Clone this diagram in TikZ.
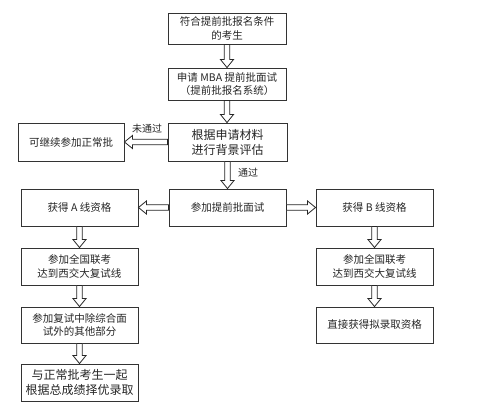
\documentclass[tikz,border=0pt]{standalone}
\usepackage{fontspec}
\setmainfont{Noto Sans CJK SC}
\usetikzlibrary{calc}
\tikzset{
  box/.style={draw=black!80, line width=0.9pt, rectangle, inner sep=0pt, align=center,
    font=\fontsize{10.5}{13.5}\selectfont, text=black!85},
  bigtxt/.style={font=\fontsize{12}{15}\selectfont},
  lbl/.style={font=\fontsize{10}{12}\selectfont, inner sep=0pt, text=black!85},
  barrowstyle/.style={draw=black!85, line width=0.8pt, fill=white, line join=miter}
}
\newcommand\blockarrow[2]{%
  \coordinate (ba-s) at (#1);
  \coordinate (ba-t) at (#2);
  \coordinate (ba-m) at ($(ba-t)!8pt!(ba-s)$);
  \draw[barrowstyle] ($(ba-s)!2.8pt!90:(ba-t)$) -- ($(ba-m)!2.8pt!-90:(ba-s)$)
    -- ($(ba-m)!6.5pt!-90:(ba-s)$) -- (ba-t) -- ($(ba-m)!6.5pt!90:(ba-s)$)
    -- ($(ba-m)!2.8pt!90:(ba-s)$) -- ($(ba-s)!2.8pt!-90:(ba-t)$) -- cycle;
}
\begin{document}
\begin{tikzpicture}[x=1pt,y=-1pt]
\useasboundingbox[fill=white] (0,0) rectangle (493,412);
\node[box, minimum width=118pt, minimum height=31pt] (n1) at (227,28.5) {符合提前批报名条件\\的考生};
\node[box, minimum width=118pt, minimum height=32pt] (n2) at (227,84) {申请 MBA 提前批面试\\（提前批报名系统）};
\node[box, bigtxt, minimum width=119pt, minimum height=38pt] (n3) at (227.5,142) {根据申请材料\\进行背景评估};
\node[box, minimum width=106pt, minimum height=38pt] (l) at (71,142) {可继续参加正常批};
\node[box, minimum width=117pt, minimum height=37pt] (c) at (227.5,207.5) {参加提前批面试};
\node[box, minimum width=117pt, minimum height=37pt] (a1) at (79.5,207.5) {获得 A 线资格};
\node[box, minimum width=117pt, minimum height=37pt] (b1) at (374.5,207.5) {获得 B 线资格};
\node[box, minimum width=117pt, minimum height=37pt] (a2) at (79.5,266.5) {参加全国联考\\达到西交大复试线};
\node[box, minimum width=117pt, minimum height=36pt] (a3) at (79.5,325) {参加复试中除综合面\\试外的其他部分};
\node[box, bigtxt, minimum width=117pt, minimum height=37pt] (a4) at (79.5,382.5) {与正常批考生一起\\根据总成绩择优录取};
\node[box, minimum width=117pt, minimum height=37pt] (b2) at (374.5,266.5) {参加全国联考\\达到西交大复试线};
\node[box, minimum width=117pt, minimum height=36pt] (b3) at (374.5,325) {直接获得拟录取资格};
\node[lbl] (t1) at (147,129) {未通过};
\node[lbl] (t2) at (248,173) {通过};
\blockarrow{n1.south}{n2.north}
\blockarrow{n2.south}{n2.south |- n3.north}
\blockarrow{n3.west}{l.east}
\blockarrow{c.north |- n3.south}{c.north}
\blockarrow{c.west}{a1.east}
\blockarrow{c.east}{b1.west}
\blockarrow{a1.south}{a2.north}
\blockarrow{a2.south}{a3.north}
\blockarrow{a3.south}{a4.north}
\blockarrow{b1.south}{b2.north}
\blockarrow{b2.south}{b3.north}
\end{tikzpicture}
\end{document}
